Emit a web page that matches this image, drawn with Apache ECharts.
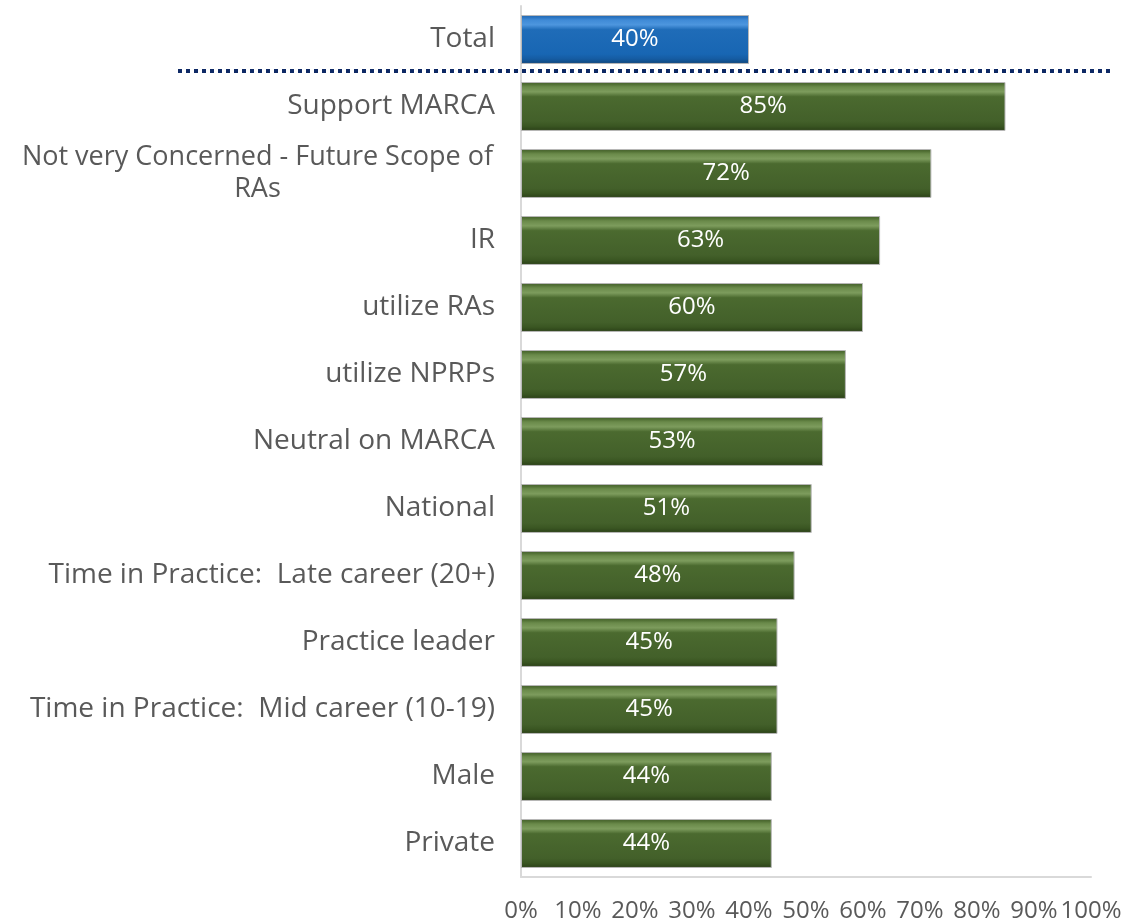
<!DOCTYPE html>
<html>
<head>
<meta charset="utf-8">
<script src="https://cdn.jsdelivr.net/npm/echarts@6/dist/echarts.min.js"></script>
<style>
  html, body { margin: 0; padding: 0; background: #fff; }
  #chart { width: 1140px; height: 924px; }
</style>
</head>
<body>
<div id="chart"></div>
<script>
// categories top to bottom
const categories = [
  'Total',
  'Support MARCA',
  'Not very Concerned - Future Scope of RAs',
  'IR',
  'utilize RAs',
  'utilize NPRPs',
  'Neutral on MARCA',
  'National',
  'Time in Practice:  Late career (20+)',
  'Practice leader',
  'Time in Practice:  Mid career (10-19)',
  'Male',
  'Private'
]
const values = [40, 85, 72, 63, 60, 57, 53, 51, 48, 45, 45, 44, 44]
const xTicks = [0, 10, 20, 30, 40, 50, 60, 70, 80, 90, 100]

const grad = (stops) => new echarts.graphic.LinearGradient(0, 0, 0, 1, stops)

const greenFill = grad([
  { offset: 0, color: '#3b5821' },
  { offset: 0.1, color: '#6a8a4a' },
  { offset: 0.2, color: '#7d9c5d' },
  { offset: 0.3, color: '#4b6a2f' },
  { offset: 0.8, color: '#43602a' },
  { offset: 0.9, color: '#3a5622' },
  { offset: 1, color: '#2a3f17' }
])
const blueFill = grad([
  { offset: 0, color: '#1760ad' },
  { offset: 0.1, color: '#3f8ad6' },
  { offset: 0.2, color: '#4d96de' },
  { offset: 0.3, color: '#1f6cb8' },
  { offset: 0.8, color: '#1866b3' },
  { offset: 0.9, color: '#155ba1' },
  { offset: 1, color: '#0e4479' }
])

const chart = echarts.init(document.getElementById('chart'))
chart.setOption({
  animation: false,
  grid: { left: 521, right: 49, top: 6, bottom: 47 },
  xAxis: {
    type: 'value',
    min: 0,
    max: 100,
    interval: 10,
    axisLine: { show: true, lineStyle: { color: '#d9d9d9', width: 2 } },
    axisTick: { show: false },
    splitLine: { show: false },
    axisLabel: {
      margin: 22,
      color: '#595959',
      fontSize: 24,
      fontFamily: 'Open Sans',
      formatter: v => (xTicks.includes(v) ? v + '%' : '')
    }
  },
  yAxis: {
    type: 'category',
    inverse: true,
    data: categories,
    axisLine: { show: true, lineStyle: { color: '#d9d9d9', width: 2 } },
    axisTick: { show: false },
    axisLabel: {
      margin: 26,
      color: '#595959',
      fontSize: 28,
      fontFamily: 'Open Sans',
      formatter: v => {
        if (v.startsWith('Not very')) {
          return '{c|Not very Concerned - Future Scope of}\n{c|RAs}'
        }
        return v
      },
      rich: {
        c: { width: 475, align: 'center', fontSize: 27, color: '#595959', fontFamily: 'Open Sans', lineHeight: 32 }
      }
    }
  },
  series: [{
    type: 'bar',
    barWidth: '73%',
    data: values.map((v, i) => ({
      value: v,
      itemStyle: {
        color: i === 0 ? blueFill : greenFill,
        borderColor: '#b8b8b8',
        borderWidth: 1
      }
    })),
    label: {
      show: true,
      position: 'inside',
      color: '#fff',
      fontSize: 24,
      fontFamily: 'Open Sans',
      formatter: p => p.value + '%'
    }
  }],
  graphic: [{
    type: 'line',
    z: 100,
    shape: { x1: 178, y1: 71, x2: 1110, y2: 71 },
    style: { stroke: '#0f2a66', lineWidth: 4, lineDash: [4, 4] }
  }]
})
</script>
</body>
</html>
